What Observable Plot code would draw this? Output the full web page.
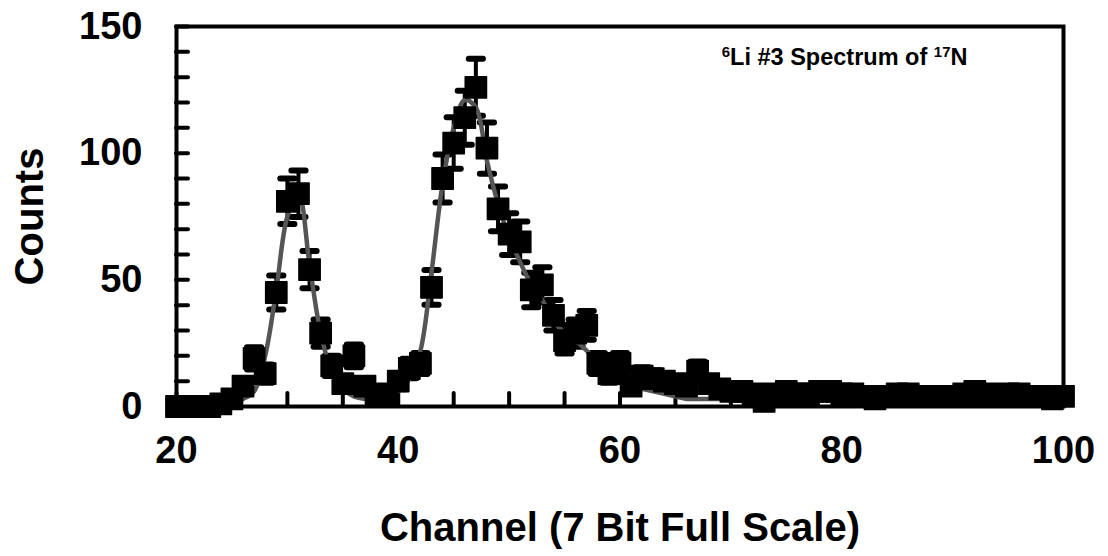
<!DOCTYPE html>
<html>
<head>
<meta charset="utf-8">
<script src="https://cdn.jsdelivr.net/npm/d3@7"></script>
<script src="https://cdn.jsdelivr.net/npm/@observablehq/plot@0.6"></script>
<style>
  html, body { margin: 0; padding: 0; background: #fff; }
</style>
</head>
<body>
<div id="chart"></div>
<script>
// ---- data ----
const channels = [20,21,22,23,24,25,26,27,28,29,30,31,32,33,34,35,36,37,38,39,40,41,42,43,44,45,46,47,48,49,50,51,52,53,54,55,56,57,58,59,60,61,62,63,64,65,66,67,68,69,70,71,72,73,74,75,76,77,78,79,80,81,82,83,84,85,86,87,88,89,90,91,92,93,94,95,96,97,98,99,100];
const counts = [
  0,0,0,0,1,3,8,19,13,45,
  81,84,54,29,16,9,20,8,5,4,
  10,15,17,47,90,104,114,126,102,78,
  68,65,46,48,36,26,29,32,17,13,
  17,8,12,11,10,9,8,14,9,7,
  6,6,5,2,5,6,5,5,6,6,
  5,5,4,3,4,5,5,4,4,4,
  4,5,6,5,4,5,5,4,4,3,
  4
];
const fitCounts = [
  0,0,0,0.3,0.8,1.5,3,6,20,46,
  75,84,56,29,14,7,4,3,3,4,
  6,11,22,53,88,110,121,118,97,80,
  67,57,48,42,34,29,26,22,17,13,
  10,8,7,6,5,4,3,3,3,3,
  3,3,3,3,3,3,3,3,3,3,
  3,3,3,3,3,3,3,3,3,3,
  3,3,3,3,3,3,3,3,3,3,
  3
];
const xTickLabels = [20, 40, 60, 80, 100];
const xMinorTicks = [20,25,30,35,40,45,50,55,60,65,70,75,80,85,90,95,100];
const yTickLabels = [0, 50, 100, 150];
const yMinorTicks = [0,10,20,30,40,50,60,70,80,90,100,110,120,130,140,150];
const xTitle = ["Channel (7 Bit Full Scale)"];
const yTitle = ["Counts"];
const annotationParts = ["6", "Li #3 Spectrum of ", "17", "N"];
const annotationSup = [true, false, true, false];

// ---- table ----
const rows = channels.map((c, i) => ({channel: c, count: counts[i], fit: fitCounts[i]}));
const withErr = rows.filter(d => d.count > 0);

// ---- layout ----
const W = 1108, H = 556, mL = 176, mR = 45, mT = 26, mB = 150;
const plotW = W - mL - mR, plotH = H - mT - mB;
const FONT = '"Liberation Sans", Arial, Helvetica, sans-serif';
const MAIN_ANN = 23.5, SUP_ANN = 15;

const capSymbol = {
  draw(context, size) {
    const w = Math.sqrt(size);
    context.moveTo(-w, 0);
    context.lineTo(w, 0);
  }
};

const chart = Plot.plot({
  width: W,
  height: H,
  marginLeft: mL,
  marginRight: mR,
  marginTop: mT,
  marginBottom: mB,
  style: {fontFamily: FONT, fontWeight: "bold", fontSize: "38px", background: "#fff", color: "#000"},
  x: {domain: [20, 100], label: null},
  y: {domain: [0, 150], label: null},
  marks: [
    Plot.tickX(xMinorTicks, {x: d => d, insetTop: plotH - 13, stroke: "#000", strokeWidth: 4, strokeLinecap: "round"}),
    Plot.tickY(yMinorTicks, {y: d => d, insetRight: plotW - 12, stroke: "#000", strokeWidth: 4, strokeLinecap: "round"}),
    Plot.frame({stroke: "#000", strokeWidth: 4}),
    Plot.axisX({ticks: xTickLabels, tickSize: 0, tickPadding: 30, fontSize: 38, fontWeight: "bold", tickFormat: d => String(d)}),
    Plot.axisY({ticks: yTickLabels, tickSize: 0, tickPadding: 34, fontSize: 38, fontWeight: "bold", tickFormat: d => String(d)}),
    Plot.ruleX(withErr, {x: "channel", y1: d => d.count - Math.sqrt(d.count), y2: d => d.count + Math.sqrt(d.count), stroke: "#000", strokeWidth: 4}),
    Plot.dot(withErr, {x: "channel", y: d => d.count - Math.sqrt(d.count), symbol: capSymbol, r: 4, fill: "none", stroke: "#000", strokeWidth: 6, strokeLinecap: "round"}),
    Plot.dot(withErr, {x: "channel", y: d => d.count + Math.sqrt(d.count), symbol: capSymbol, r: 4, fill: "none", stroke: "#000", strokeWidth: 6, strokeLinecap: "round"}),
    Plot.line(rows, {x: "channel", y: "fit", stroke: "#555", strokeWidth: 4.5, curve: "catmull-rom"}),
    Plot.dot(rows, {x: "channel", y: "count", symbol: "square", r: 12, fill: "#000", stroke: "#000", strokeWidth: 1.5, strokeLinejoin: "round"}),
    Plot.text(yTitle, {text: d => d, frameAnchor: "left", textAnchor: "middle", dx: -146, rotate: -90, fontSize: 40, fontWeight: "bold", fill: "#000"}),
    Plot.text(xTitle, {text: d => d, frameAnchor: "bottom", textAnchor: "middle", dy: 106, lineAnchor: "top", fontSize: 40, fontWeight: "bold", fill: "#000"}),
    Plot.text([annotationParts.join("")], {text: d => d, frameAnchor: "top-right", dx: -96, dy: 22, textAnchor: "end", fontSize: MAIN_ANN, fontWeight: "bold", fill: "#000"})
  ]
});

document.getElementById("chart").appendChild(chart);

// superscripts in the annotation
const full = annotationParts.join("");
d3.select(chart).selectAll("text").each(function() {
  if (this.textContent === full) {
    const t = d3.select(this);
    t.text(null);
    let raised = false;
    annotationParts.forEach((p, i) => {
      const sup = annotationSup[i];
      let dy = 0;
      if (sup && !raised) { dy = -8; raised = true; }
      else if (!sup && raised) { dy = 8; raised = false; }
      t.append("tspan").attr("dy", dy).attr("font-size", sup ? SUP_ANN : MAIN_ANN).text(p);
    });
  }
});
</script>
</body>
</html>
